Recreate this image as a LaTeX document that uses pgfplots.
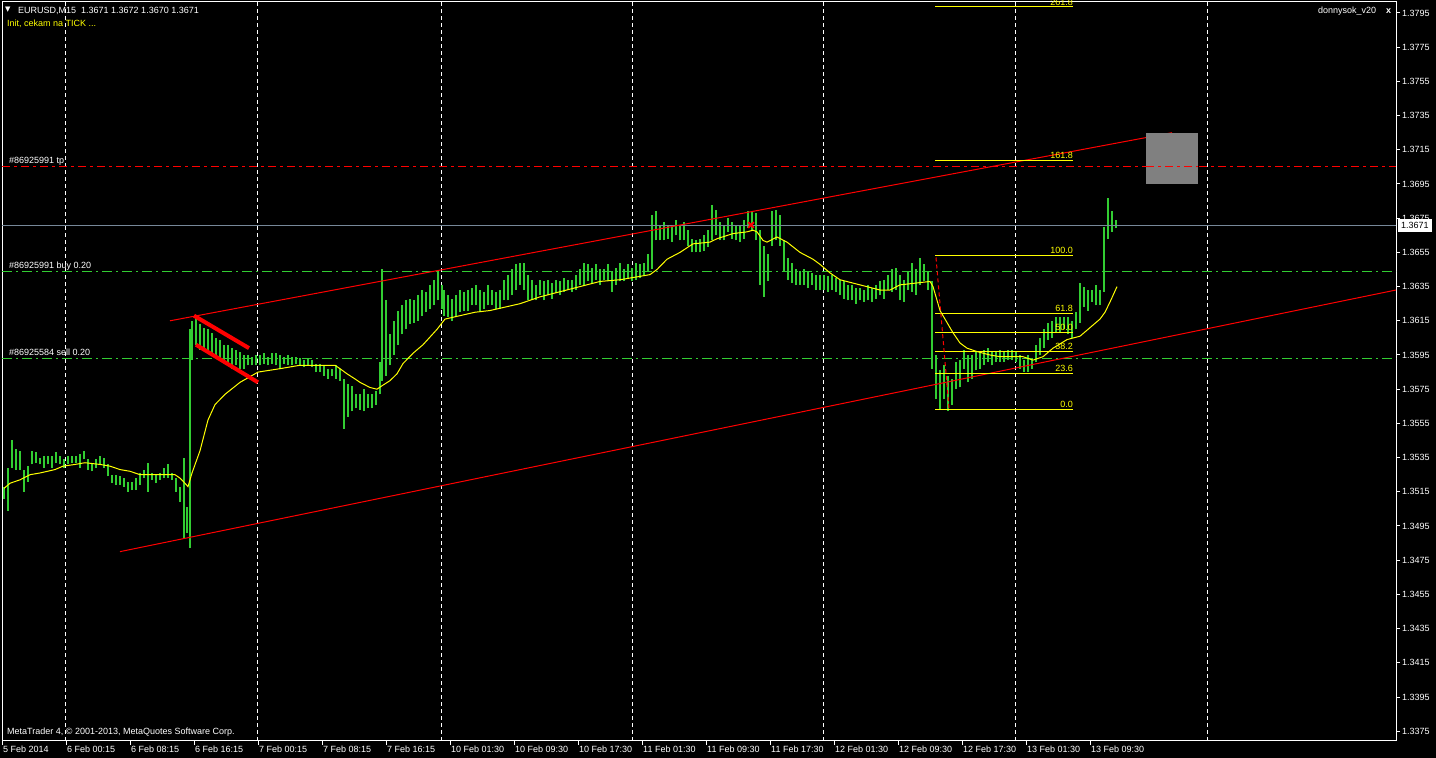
\documentclass[border=0pt]{standalone}
\usepackage{fontspec}
\setmainfont{Liberation Sans}
\newfontfamily\dejavu{DejaVu Sans}
\usepackage{pgfplots}
\usepackage{pgfplotstable}
\pgfplotsset{compat=1.18}
\definecolor{barGreen}{RGB}{50,205,50}
\definecolor{bidGray}{RGB}{119,136,153}
\definecolor{fibYellow}{RGB}{255,255,0}
\definecolor{boxGray}{RGB}{128,128,128}

\pgfplotstableread{
x lo hi
4 1.3511 1.3518
8 1.3504 1.3529
12 1.3529 1.3545
16 1.3528 1.3540
20 1.3528 1.3539
24 1.3515 1.3528
28 1.3521 1.3530
32 1.3531 1.3539
36 1.3532 1.3538
40 1.3531 1.3535
44 1.3529 1.3536
48 1.3531 1.3536
52 1.3529 1.3536
56 1.3532 1.3538
60 1.3531 1.3536
64 1.3529 1.3534
68 1.3531 1.3536
72 1.3532 1.3536
76 1.3532 1.3536
80 1.3529 1.3537
84 1.3534 1.3539
88 1.3528 1.3534
92 1.3527 1.3531
96 1.3529 1.3534
100 1.3531 1.3536
104 1.3529 1.3535
108 1.3524 1.3531
112 1.3520 1.3525
116 1.3519 1.3525
120 1.3519 1.3524
124 1.3518 1.3523
128 1.3515 1.3521
132 1.3516 1.3521
136 1.3516 1.3523
140 1.3519 1.3526
144 1.3523 1.3528
148 1.3515 1.3532
152 1.3522 1.3526
156 1.3520 1.3525
160 1.3522 1.3526
164 1.3523 1.3529
168 1.3523 1.3531
172 1.3522 1.3526
176 1.3515 1.3523
180 1.3509 1.3518
184 1.3488 1.3535
187 1.3491 1.3506
190 1.3482 1.3610
192 1.3592 1.3615
196 1.3601 1.3617
200 1.3598 1.3613
204 1.3599 1.3611
208 1.3597 1.3610
212 1.3595 1.3608
216 1.3593 1.3605
220 1.3592 1.3604
224 1.3591 1.3601
228 1.3589 1.3601
232 1.3587 1.3599
236 1.3589 1.3598
240 1.3587 1.3597
244 1.3587 1.3595
248 1.3589 1.3595
252 1.3589 1.3594
256 1.3589 1.3595
260 1.3589 1.3595
264 1.3590 1.3596
268 1.3589 1.3594
272 1.3590 1.3596
276 1.3589 1.3596
280 1.3587 1.3595
284 1.3590 1.3594
288 1.3589 1.3595
292 1.3589 1.3594
296 1.3590 1.3594
300 1.3589 1.3593
304 1.3588 1.3592
308 1.3589 1.3593
312 1.3588 1.3592
316 1.3585 1.3590
320 1.3585 1.3590
324 1.3583 1.3589
328 1.3581 1.3587
332 1.3583 1.3587
336 1.3581 1.3589
340 1.3580 1.3587
344 1.3552 1.3581
348 1.3559 1.3578
352 1.3562 1.3577
356 1.3564 1.3572
360 1.3563 1.3572
364 1.3562 1.3575
368 1.3564 1.3572
372 1.3564 1.3572
376 1.3566 1.3574
380 1.3572 1.3591
382 1.3580 1.3645
386 1.3583 1.3627
390 1.3589 1.3607
394 1.3595 1.3615
398 1.3601 1.3621
402 1.3607 1.3624
406 1.3610 1.3627
410 1.3613 1.3628
414 1.3614 1.3627
418 1.3615 1.3630
422 1.3618 1.3633
426 1.3620 1.3632
430 1.3622 1.3636
434 1.3624 1.3639
438 1.3627 1.3644
442 1.3622 1.3636
444 1.3618 1.3633
448 1.3617 1.3630
452 1.3615 1.3628
456 1.3618 1.3630
460 1.3620 1.3633
464 1.3621 1.3632
468 1.3621 1.3633
472 1.3624 1.3634
476 1.3624 1.3636
480 1.3621 1.3633
484 1.3622 1.3632
488 1.3624 1.3636
492 1.3624 1.3633
496 1.3622 1.3632
500 1.3622 1.3633
504 1.3627 1.3639
508 1.3627 1.3642
512 1.3630 1.3645
516 1.3633 1.3648
520 1.3636 1.3649
524 1.3633 1.3649
528 1.3627 1.3642
532 1.3627 1.3639
536 1.3627 1.3636
540 1.3630 1.3639
544 1.3627 1.3638
548 1.3630 1.3639
552 1.3628 1.3637
556 1.3631 1.3639
560 1.3630 1.3638
564 1.3632 1.3640
568 1.3633 1.3639
572 1.3632 1.3639
576 1.3633 1.3642
580 1.3636 1.3645
584 1.3636 1.3649
588 1.3638 1.3648
592 1.3637 1.3646
596 1.3639 1.3648
600 1.3636 1.3645
604 1.3639 1.3645
608 1.3638 1.3648
612 1.3632 1.3644
616 1.3636 1.3646
620 1.3638 1.3649
624 1.3638 1.3645
628 1.3640 1.3648
632 1.3638 1.3646
636 1.3639 1.3649
640 1.3640 1.3648
644 1.3642 1.3649
648 1.3644 1.3654
652 1.3645 1.3677
656 1.3662 1.3679
660 1.3662 1.3671
664 1.3662 1.3673
668 1.3663 1.3671
672 1.3661 1.3671
676 1.3665 1.3674
680 1.3662 1.3671
684 1.3662 1.3673
688 1.3659 1.3668
692 1.3655 1.3663
696 1.3655 1.3662
700 1.3655 1.3663
704 1.3656 1.3665
708 1.3658 1.3668
712 1.3662 1.3683
716 1.3665 1.3680
720 1.3662 1.3673
724 1.3662 1.3671
728 1.3667 1.3675
732 1.3663 1.3673
736 1.3662 1.3671
740 1.3661 1.3671
744 1.3663 1.3674
748 1.3669 1.3679
752 1.3668 1.3679
756 1.3662 1.3678
760 1.3636 1.3668
764 1.3629 1.3659
768 1.3638 1.3654
772 1.3659 1.3679
776 1.3662 1.3680
780 1.3659 1.3677
784 1.3644 1.3662
788 1.3639 1.3652
792 1.3637 1.3649
796 1.3636 1.3645
800 1.3636 1.3644
804 1.3636 1.3645
808 1.3634 1.3644
812 1.3636 1.3643
816 1.3633 1.3642
820 1.3633 1.3642
824 1.3633 1.3642
828 1.3632 1.3641
832 1.3633 1.3642
836 1.3632 1.3640
840 1.3630 1.3639
844 1.3628 1.3638
848 1.3627 1.3636
852 1.3627 1.3636
856 1.3625 1.3634
860 1.3627 1.3634
864 1.3626 1.3633
868 1.3627 1.3636
872 1.3626 1.3634
876 1.3628 1.3636
880 1.3630 1.3638
884 1.3628 1.3639
888 1.3633 1.3642
892 1.3632 1.3645
896 1.3633 1.3646
900 1.3627 1.3642
904 1.3626 1.3639
908 1.3633 1.3644
912 1.3632 1.3649
916 1.3630 1.3645
920 1.3636 1.3652
924 1.3638 1.3648
928 1.3633 1.3644
932 1.3587 1.3638
936 1.3569 1.3595
940 1.3563 1.3586
944 1.3569 1.3589
948 1.3562 1.3583
952 1.3566 1.3581
956 1.3575 1.3591
960 1.3576 1.3592
964 1.3587 1.3598
968 1.3579 1.3595
972 1.3581 1.3595
976 1.3586 1.3597
980 1.3587 1.3597
984 1.3589 1.3598
988 1.3591 1.3599
992 1.3589 1.3597
996 1.3591 1.3597
1000 1.3591 1.3598
1004 1.3591 1.3597
1008 1.3592 1.3598
1012 1.3592 1.3598
1016 1.3591 1.3597
1020 1.3587 1.3595
1024 1.3585 1.3592
1028 1.3585 1.3595
1032 1.3587 1.3593
1036 1.3591 1.3601
1040 1.3595 1.3605
1044 1.3599 1.3610
1048 1.3604 1.3614
1052 1.3605 1.3615
1056 1.3608 1.3617
1060 1.3608 1.3617
1064 1.3610 1.3617
1068 1.3607 1.3617
1072 1.3605 1.3615
1076 1.3610 1.3620
1080 1.3614 1.3637
1084 1.3623 1.3635
1088 1.3621 1.3633
1092 1.3626 1.3633
1096 1.3624 1.3636
1100 1.3624 1.3633
1104 1.3632 1.3670
1108 1.3663 1.3687
1112 1.3667 1.3679
1116 1.3669 1.3674
}\bars

\pgfplotstableread{
x ma
4 1.3517
10 1.3520
20 1.3522
30 1.3525
40 1.3526
55 1.3528
63 1.3530
75 1.3531
85 1.3532
100 1.3531
110 1.3530
120 1.3528
130 1.3527
140 1.3525
160 1.3525
175 1.3525
180 1.3523
185 1.3520
188 1.3518
192 1.3526
200 1.3539
208 1.3557
215 1.3566
225 1.3572
240 1.3579
258 1.3585
280 1.3587
300 1.3589
320 1.3589
335 1.3589
340 1.3587
347 1.3584
355 1.3581
360 1.3579
370 1.3576
377 1.3575
382 1.3577
390 1.3580
397 1.3584
403 1.3590
413 1.3596
423 1.3601
437 1.3610
445 1.3616
460 1.3618
475 1.3620
490 1.3621
505 1.3623
520 1.3625
540 1.3629
560 1.3632
580 1.3635
600 1.3638
620 1.3639
640 1.3641
650 1.3642
657 1.3645
667 1.3651
680 1.3655
693 1.3660
710 1.3661
717 1.3663
733 1.3666
747 1.3667
753 1.3668
757 1.3667
763 1.3662
767 1.3661
777 1.3664
787 1.3661
800 1.3655
813 1.3651
820 1.3648
830 1.3643
840 1.3639
860 1.3636
880 1.3633
890 1.3633
900 1.3636
915 1.3637
930 1.3638
933 1.3635
940 1.3621
947 1.3614
953 1.3608
960 1.3602
967 1.3599
977 1.3597
990 1.3595
1000 1.3594
1023 1.3594
1033 1.3592
1043 1.3594
1053 1.3599
1067 1.3604
1080 1.3606
1090 1.3611
1100 1.3616
1105 1.3620
1110 1.3626
1117 1.3635
}\ma

\begin{document}
\fontsize{9}{10}\selectfont
\begin{tikzpicture}[x=1pt,y=1pt]
\fill[black] (0,0) rectangle (1436,758);
\begin{axis}[
  at={(2pt,17pt)}, anchor=south west,
  scale only axis, width=1394pt, height=739pt,
  xmin=2, xmax=1396, ymin=1.336927, ymax=1.380143,
  clip=false,
  axis background/.style={fill=black},
  axis line style={white, line width=1pt},
  tick align=outside, major tick length=4pt,
  tick style={white, line width=1pt},
  xtick pos=left, ytick pos=right, yticklabel pos=right,
  /pgf/number format/assume math mode=true,
  xtick={2,66,130,194,258,322,386,450,514,578,642,706,770,834,898,962,1026,1090},
  xticklabels={5 Feb 2014,6 Feb 00:15,6 Feb 08:15,6 Feb 16:15,7 Feb 00:15,7 Feb 08:15,7 Feb 16:15,10 Feb 01:30,10 Feb 09:30,10 Feb 17:30,11 Feb 01:30,11 Feb 09:30,11 Feb 17:30,12 Feb 01:30,12 Feb 09:30,12 Feb 17:30,13 Feb 01:30,13 Feb 09:30},
  ytick={1.3375,1.3395,1.3415,1.3435,1.3455,1.3475,1.3495,1.3515,1.3535,1.3555,1.3575,1.3595,1.3615,1.3635,1.3655,1.3675,1.3695,1.3715,1.3735,1.3755,1.3775,1.3795},
  yticklabels={1.3375,1.3395,1.3415,1.3435,1.3455,1.3475,1.3495,1.3515,1.3535,1.3555,1.3575,1.3595,1.3615,1.3635,1.3655,1.3675,1.3695,1.3715,1.3735,1.3755,1.3775,1.3795},
  xticklabel style={anchor=north west, inner sep=0pt, text=white, font=\fontsize{9}{10}\selectfont, xshift=1pt, yshift=-0.5pt},
  yticklabel style={anchor=west, inner sep=0pt, text=white, font=\fontsize{9}{10}\selectfont, xshift=2pt},
  extra x ticks={65,257,441,632,823,1015,1207},
  extra x tick labels={},
  extra x tick style={grid=major, major tick length=0pt},
  major grid style={white, line width=1pt, dash pattern=on 4pt off 3pt},
]
% bars
\addplot[draw=none, mark=none, forget plot,
  error bars/.cd, y dir=plus, y explicit, error mark=none,
  error bar style={draw=barGreen, line width=1.4pt}]
  table[x=x, y=lo, y error expr=\thisrow{hi}-\thisrow{lo}] {\bars};
% bid line
\addplot[bidGray, line width=1pt, mark=none] coordinates {(2,1.3671) (1396,1.3671)};
% order lines
\addplot[red, line width=1pt, mark=none, dash pattern=on 8pt off 4pt on 3pt off 4pt] coordinates {(2,1.3705) (1396,1.3705)};
\addplot[barGreen, line width=1pt, mark=none, dash pattern=on 10pt off 4pt on 2pt off 4pt] coordinates {(2,1.3644) (1396,1.3644)};
\addplot[barGreen, line width=1pt, mark=none, dash pattern=on 10pt off 4pt on 2pt off 4pt] coordinates {(2,1.3593) (1396,1.3593)};
% channel
\addplot[red, line width=1pt, mark=none] coordinates {(170,1.3615) (1172,1.3725)};
\addplot[red, line width=1pt, mark=none] coordinates {(120,1.3480) (1396,1.3633)};
% fibonacci
\addplot[fibYellow, line width=1pt, mark=none] coordinates {(935,1.3563) (1073,1.3563)};
\addplot[fibYellow, line width=1pt, mark=none] coordinates {(935,1.3584) (1073,1.3584)};
\addplot[fibYellow, line width=1pt, mark=none] coordinates {(935,1.3597) (1073,1.3597)};
\addplot[fibYellow, line width=1pt, mark=none] coordinates {(935,1.3608) (1073,1.3608)};
\addplot[fibYellow, line width=1pt, mark=none] coordinates {(935,1.3619) (1073,1.3619)};
\addplot[fibYellow, line width=1pt, mark=none] coordinates {(935,1.3653) (1073,1.3653)};
\addplot[fibYellow, line width=1pt, mark=none] coordinates {(935,1.3709) (1073,1.3709)};
\addplot[fibYellow, line width=1pt, mark=none] coordinates {(935,1.3799) (1073,1.3799)};
\addplot[red, line width=1pt, mark=none, dash pattern=on 4pt off 3pt] coordinates {(936,1.3652) (949,1.3564)};
% moving average
\addplot[fibYellow, line width=1pt, mark=none] table[x=x, y=ma] {\ma};
% gray box
\addplot[fill=boxGray, draw=none, mark=none] coordinates {(1146,1.3695) (1198,1.3695) (1198,1.3725) (1146,1.3725)} -- cycle;
\addplot[red, line width=1pt, mark=none, dash pattern=on 8pt off 4pt on 3pt off 4pt] coordinates {(1146,1.3705) (1198,1.3705)};
% flag
\addplot[red, line width=4pt, mark=none] coordinates {(194,1.3618) (249,1.3599)};
\addplot[red, line width=4pt, mark=none] coordinates {(196,1.3601) (258,1.3579)};
% cross
\addplot[red, only marks, mark=x, mark size=4pt, line width=2pt] coordinates {(751,1.3671)};
% labels
\node[anchor=base west, inner sep=0pt, text=white, yshift=3pt] at (axis cs:9,1.3705) {\#86925991 tp};
\node[anchor=base west, inner sep=0pt, text=white, yshift=3pt] at (axis cs:9,1.3644) {\#86925991 buy 0.20};
\node[anchor=base west, inner sep=0pt, text=white, yshift=3pt] at (axis cs:9,1.3593) {\#86925584 sell 0.20};
\node[anchor=base east, inner sep=0pt, text=fibYellow, yshift=2pt] at (axis cs:1073,1.3563) {0.0};
\node[anchor=base east, inner sep=0pt, text=fibYellow, yshift=2pt] at (axis cs:1073,1.3584) {23.6};
\node[anchor=base east, inner sep=0pt, text=fibYellow, yshift=2pt] at (axis cs:1073,1.3597) {38.2};
\node[anchor=base east, inner sep=0pt, text=fibYellow, yshift=2pt] at (axis cs:1073,1.3608) {50.0};
\node[anchor=base east, inner sep=0pt, text=fibYellow, yshift=2pt] at (axis cs:1073,1.3619) {61.8};
\node[anchor=base east, inner sep=0pt, text=fibYellow, yshift=2pt] at (axis cs:1073,1.3653) {100.0};
\node[anchor=base east, inner sep=0pt, text=fibYellow, yshift=2pt] at (axis cs:1073,1.3709) {161.8};
\node[anchor=base east, inner sep=0pt, text=fibYellow, yshift=1pt] at (axis cs:1073,1.3799) {261.8};
\coordinate (bidc) at (axis cs:1398,1.3671);
\end{axis}
\node[anchor=west, fill=white, text=black, inner xsep=3pt, inner ysep=0pt, minimum height=13pt] at (bidc) {1.3671};
\node[anchor=base west, inner sep=0pt, text=white, font=\dejavu\fontsize{7}{7}\selectfont] at (5,746) {▼};
\node[anchor=base west, inner sep=0pt, text=white] at (18,744) {EURUSD,M15\ \ 1.3671 1.3672 1.3670 1.3671};
\node[anchor=base west, inner sep=0pt, text=fibYellow] at (7,731) {Init, cekam na TICK ...};
\node[anchor=base west, inner sep=0pt, text=white] at (1318,744) {donnysok\_v20};
\node[anchor=base west, inner sep=0pt, text=white, font=\bfseries] at (1386,744) {x};
\node[anchor=base west, inner sep=0pt, text=white] at (7,23) {MetaTrader 4, © 2001-2013, MetaQuotes Software Corp.};
\pgfresetboundingbox
\useasboundingbox (0,0) rectangle (1436,758);
\end{tikzpicture}
\end{document}
